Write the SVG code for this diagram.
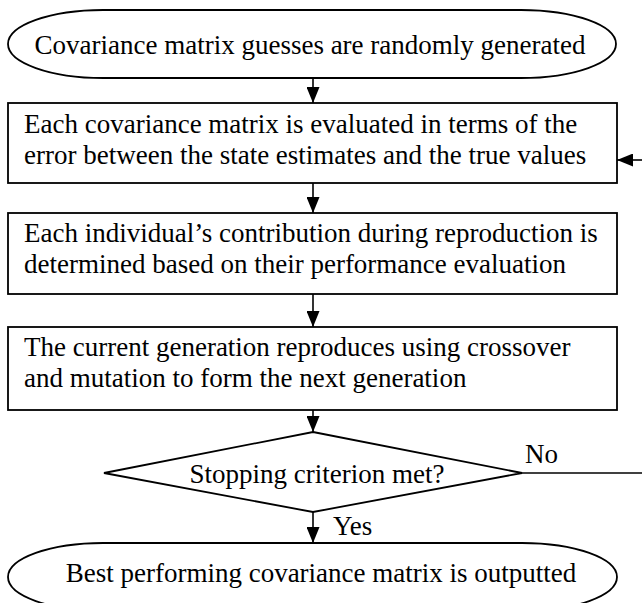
<svg xmlns="http://www.w3.org/2000/svg" width="642" height="603" viewBox="0 0 642 603">
<style>
.shape{fill:#fff;stroke:#000;stroke-width:1.8}
.t{font-family:"Liberation Serif","Times New Roman",serif;font-size:27px;fill:#000}
.c{text-anchor:middle}
.conn line{stroke:#000;stroke-width:1.6}
</style>
<defs>
<marker id="ah" viewBox="0 0 16 13" refX="16" refY="6.5" markerWidth="16" markerHeight="13" markerUnits="userSpaceOnUse" orient="auto">
<path d="M0,0 L16,6.5 L0,13 z" fill="#000"/>
</marker>
</defs>
<rect width="642" height="603" fill="#fff"/>
<g id="start">
<rect class="shape" x="8" y="10" width="608" height="68" rx="95" ry="34"/>
<text class="t c" x="310" y="54">Covariance matrix guesses are randomly generated</text>
</g>
<g id="evaluate">
<rect class="shape" x="8" y="103" width="609" height="80"/>
<text class="t" x="24" y="133">Each covariance matrix is evaluated in terms of the</text>
<text class="t" x="24" y="164">error between the state estimates and the true values</text>
</g>
<g id="contribution">
<rect class="shape" x="8" y="213" width="609" height="81"/>
<text class="t" x="24" y="242">Each individual’s contribution during reproduction is</text>
<text class="t" x="24" y="273">determined based on their performance evaluation</text>
</g>
<g id="reproduce">
<rect class="shape" x="8" y="327" width="609" height="83"/>
<text class="t" x="24" y="356">The current generation reproduces using crossover</text>
<text class="t" x="24" y="387">and mutation to form the next generation</text>
</g>
<g id="decision">
<polygon class="shape" points="313,432 522,473 313,512 104,473"/>
<text class="t c" x="317" y="483">Stopping criterion met?</text>
</g>
<g id="end">
<rect class="shape" x="8" y="543" width="609" height="68" rx="95" ry="34"/>
<text class="t c" x="321" y="582">Best performing covariance matrix is outputted</text>
</g>
<g id="connectors" class="conn">
<line x1="313" y1="78" x2="313" y2="103" marker-end="url(#ah)"/>
<line x1="313" y1="183" x2="313" y2="213" marker-end="url(#ah)"/>
<line x1="313" y1="294" x2="313" y2="327" marker-end="url(#ah)"/>
<line x1="313" y1="410" x2="313" y2="432" marker-end="url(#ah)"/>
<line x1="313" y1="512" x2="313" y2="543" marker-end="url(#ah)"/>
<line x1="522" y1="473" x2="642" y2="473"/>
<line x1="642" y1="160" x2="617" y2="160" marker-end="url(#ah)"/>
<text class="t" x="333" y="535">Yes</text>
<text class="t" x="525" y="463">No</text>
</g>
</svg>
